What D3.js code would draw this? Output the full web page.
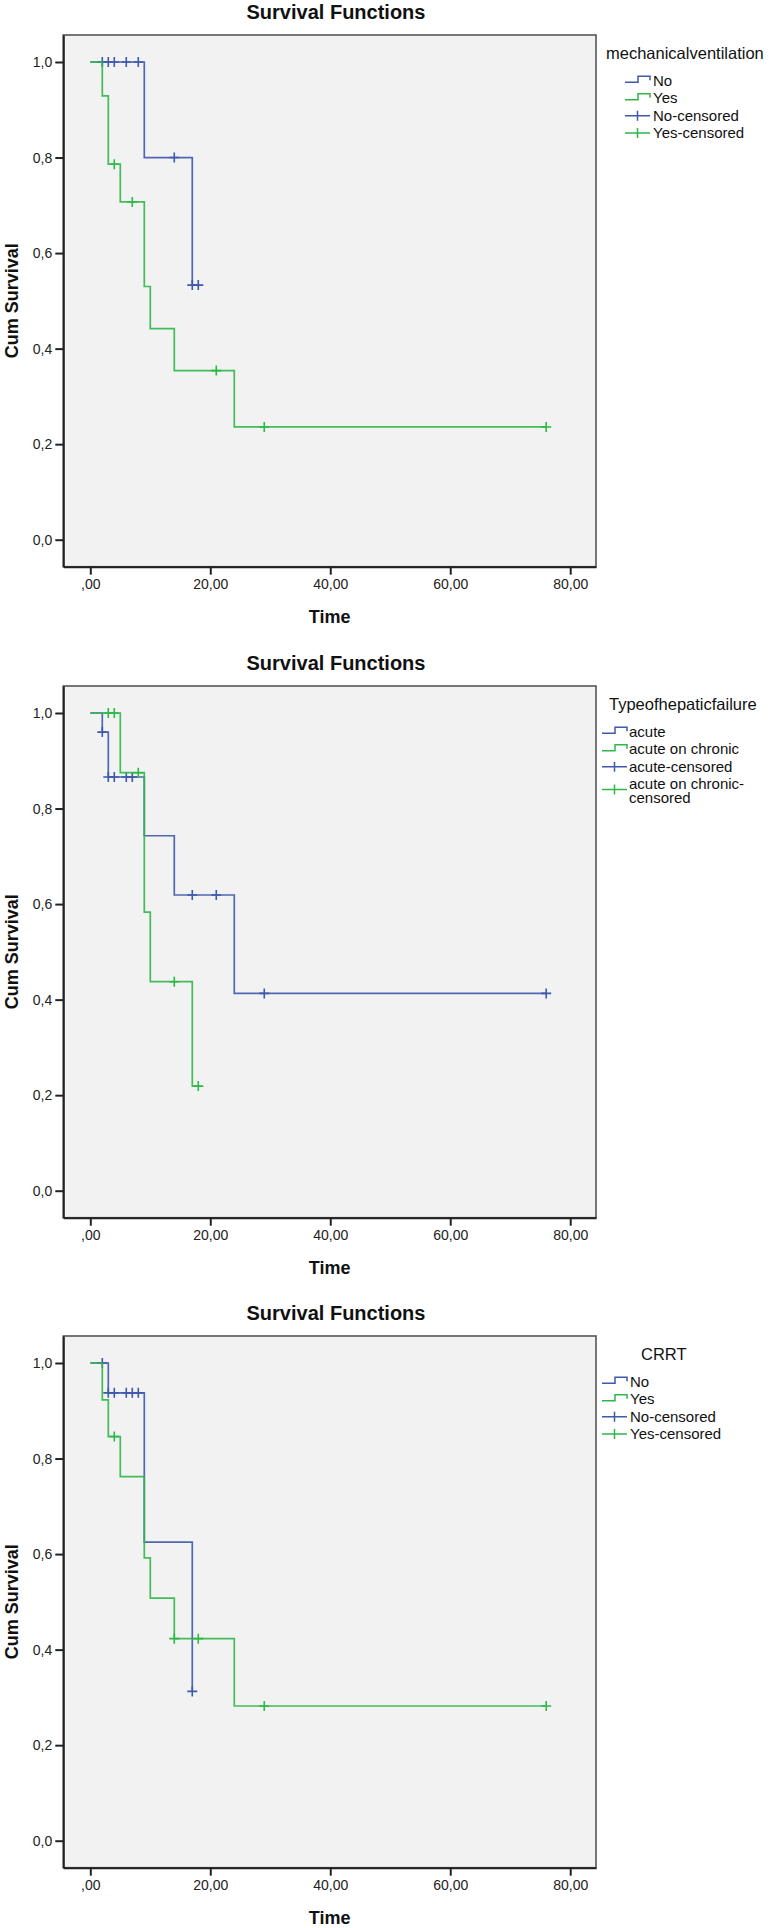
<!DOCTYPE html>
<html>
<head>
<meta charset="utf-8">
<script src="https://cdn.jsdelivr.net/npm/d3@7"></script>
<style>
  html, body { margin: 0; padding: 0; background: #ffffff; }
  svg { display: block; font-family: "Liberation Sans", Arial, sans-serif; }
</style>
</head>
<body>
<svg id="chart" width="769" height="1928"></svg>
<script>
// ---------------- DATA ----------------
const chartTitles = ["Survival Functions", "Survival Functions", "Survival Functions"];
const legendTitles = ["mechanicalventilation", "Typeofhepaticfailure", "CRRT"];
const groupLabels = [["No", "Yes"], ["acute", "acute on chronic"], ["No", "Yes"]];
const xTickValues = [0, 20, 40, 60, 80];
const xTickLabels = [",00", "20,00", "40,00", "60,00", "80,00"];
const yTickValues = [0, 0.2, 0.4, 0.6, 0.8, 1.0];
const yTickLabels = ["0,0", "0,2", "0,4", "0,6", "0,8", "1,0"];
const xAxisTitle = "Time";
const yAxisTitle = "Cum Survival";

// Chart 1: mechanical ventilation
const mvNoTimes = [0, 9, 17];
const mvNoSurv = [1.0, 0.8, 0.533];
const mvNoEnd = 18;
const mvNoCens = [2, 3, 4, 6, 8, 14, 17, 18];
const mvYesTimes = [0, 2, 3, 5, 9, 10, 14, 24];
const mvYesSurv = [1.0, 0.929, 0.786, 0.707, 0.530, 0.442, 0.354, 0.236];
const mvYesEnd = 76;
const mvYesCens = [4, 7, 21, 29, 76];

// Chart 2: type of hepatic failure
const hfAcuteTimes = [0, 2, 3, 9, 14, 24];
const hfAcuteSurv = [1.0, 0.96, 0.866, 0.743, 0.619, 0.413];
const hfAcuteEnd = 76;
const hfAcuteCens = [2, 3, 4, 6, 7, 17, 21, 29, 76];
const hfChronTimes = [0, 5, 9, 10, 17];
const hfChronSurv = [1.0, 0.875, 0.583, 0.4375, 0.219];
const hfChronEnd = 18;
const hfChronCens = [3, 4, 8, 14, 18];

// Chart 3: CRRT
const crNoTimes = [0, 3, 9, 17];
const crNoSurv = [1.0, 0.9375, 0.625, 0.3125];
const crNoEnd = 17;
const crNoCens = [2, 3, 4, 6, 7, 8, 17];
const crYesTimes = [0, 2, 3, 5, 9, 10, 14, 24];
const crYesSurv = [1.0, 0.923, 0.846, 0.762, 0.592, 0.508, 0.423, 0.282];
const crYesEnd = 76;
const crYesCens = [4, 14, 18, 29, 76];

const seriesColors = ["#3e58ac", "#2eb848"];

// ---------------- LAYOUT ----------------
const charts = [
  { oy: 0,    series: [[mvNoTimes, mvNoSurv, mvNoEnd, mvNoCens], [mvYesTimes, mvYesSurv, mvYesEnd, mvYesCens]],
    legTitleX: 606, symX: 625, textX: 653 },
  { oy: 651,  series: [[hfAcuteTimes, hfAcuteSurv, hfAcuteEnd, hfAcuteCens], [hfChronTimes, hfChronSurv, hfChronEnd, hfChronCens]],
    legTitleX: 609, symX: 602, textX: 629 },
  { oy: 1301, series: [[crNoTimes, crNoSurv, crNoEnd, crNoCens], [crYesTimes, crYesSurv, crYesEnd, crYesCens]],
    legTitleX: 641, symX: 602, textX: 630 }
];

const frame = { left: 63.3, right: 596, top: 35, bottom: 566.7 };
const x = d3.scaleLinear().domain([-4.5, 84.3]).range([frame.left, frame.right]);
const y = d3.scaleLinear().domain([-0.0565, 1.0565]).range([frame.bottom, frame.top]);

const svg = d3.select("#chart");

function survAt(times, surv, t) {
  let s = surv[0];
  for (let i = 0; i < times.length; i++) if (times[i] <= t) s = surv[i];
  return s;
}

charts.forEach((c, ci) => {
  const g = svg.append("g").attr("transform", `translate(0,${c.oy})`);

  // title
  g.append("text").attr("x", 336).attr("y", 18.5).attr("text-anchor", "middle")
    .attr("font-size", 20).attr("font-weight", "bold").attr("fill", "#111")
    .text(chartTitles[ci]);

  // plot background frame
  g.append("rect").attr("x", frame.left).attr("y", frame.top)
    .attr("width", frame.right - frame.left).attr("height", frame.bottom - frame.top)
    .attr("fill", "#f2f2f2").attr("stroke", "#555").attr("stroke-width", 1.6);

  // axes
  const xAxis = d3.axisBottom(x).tickValues(xTickValues)
    .tickFormat((d, i) => xTickLabels[i]).tickSize(8).tickSizeOuter(0).tickPadding(4);
  const gx = g.append("g").attr("transform", `translate(0,${frame.bottom})`).call(xAxis);
  const yAxis = d3.axisLeft(y).tickValues(yTickValues)
    .tickFormat((d, i) => yTickLabels[i]).tickSize(8).tickSizeOuter(0).tickPadding(3);
  const gy = g.append("g").attr("transform", `translate(${frame.left},0)`).call(yAxis);
  [gx, gy].forEach(ax => {
    ax.selectAll("path.domain").attr("stroke", "#222").attr("stroke-width", 2);
    ax.selectAll(".tick line").attr("stroke", "#222").attr("stroke-width", 2);
    ax.selectAll(".tick text").attr("font-size", 14).attr("fill", "#222")
      .attr("font-family", "'Liberation Sans', Arial, sans-serif");
  });

  // axis titles
  g.append("text").attr("x", (frame.left + frame.right) / 2).attr("y", 623)
    .attr("text-anchor", "middle").attr("font-size", 18).attr("font-weight", "bold")
    .attr("fill", "#111").text(xAxisTitle);
  g.append("text").attr("transform", `translate(18,${(frame.top + frame.bottom) / 2}) rotate(-90)`)
    .attr("text-anchor", "middle").attr("font-size", 18).attr("font-weight", "bold")
    .attr("fill", "#111").text(yAxisTitle);

  // series
  const line = d3.line().x(d => x(d[0])).y(d => y(d[1])).curve(d3.curveStepAfter);
  c.series.forEach((s, si) => {
    const [times, surv, end, cens] = s;
    const pts = times.map((t, i) => [t, surv[i]]);
    pts.push([end, surv[surv.length - 1]]);
    g.append("path").datum(pts).attr("d", line).attr("fill", "none")
      .attr("stroke", seriesColors[si]).attr("stroke-width", 1.7).attr("stroke-opacity", 0.9);
    const marks = g.append("g");
    cens.forEach(t => {
      const cx = x(t), cy = y(survAt(times, surv, t));
      marks.append("path").attr("d", `M${cx - 5},${cy}H${cx + 5}M${cx},${cy - 5}V${cy + 5}`)
        .attr("stroke", seriesColors[si]).attr("stroke-width", 1.6).attr("fill", "none");
    });
  });

  // legend
  const lg = g.append("g");
  lg.append("text").attr("x", c.legTitleX).attr("y", 59).attr("font-size", 16.5)
    .attr("fill", "#111").text(legendTitles[ci]);
  const labels = groupLabels[ci];
  const itemY = [80.3, 97.7, 115.7, 133];
  const sx = c.symX, sw = 25;
  // step symbols
  [0, 1].forEach(si => {
    const cy = itemY[si];
    lg.append("path").attr("d", `M${sx},${cy + 2}H${sx + 13}V${cy - 4}H${sx + sw}V${cy}`)
      .attr("fill", "none").attr("stroke", seriesColors[si]).attr("stroke-width", 1.5);
    lg.append("text").attr("x", c.textX).attr("y", cy + 5.3).attr("font-size", 15)
      .attr("fill", "#111").text(labels[si]);
  });
  // censored symbols
  [0, 1].forEach(si => {
    const lbl = labels[si] + "-censored";
    const wrap = lbl.length > 18;
    let cy = itemY[2 + si];
    const symY = wrap ? cy + 5.5 : cy;
    lg.append("path").attr("d", `M${sx},${symY}H${sx + sw}M${sx + sw / 2},${symY - 5}V${symY + 5}`)
      .attr("fill", "none").attr("stroke", seriesColors[si]).attr("stroke-width", 1.5);
    if (wrap) {
      lg.append("text").attr("x", c.textX).attr("y", cy + 5.3).attr("font-size", 15)
        .attr("fill", "#111").text(labels[si] + "-");
      lg.append("text").attr("x", c.textX).attr("y", cy + 18.7).attr("font-size", 15)
        .attr("fill", "#111").text("censored");
    } else {
      lg.append("text").attr("x", c.textX).attr("y", cy + 5.3).attr("font-size", 15)
        .attr("fill", "#111").text(lbl);
    }
  });
});
</script>
</body>
</html>
